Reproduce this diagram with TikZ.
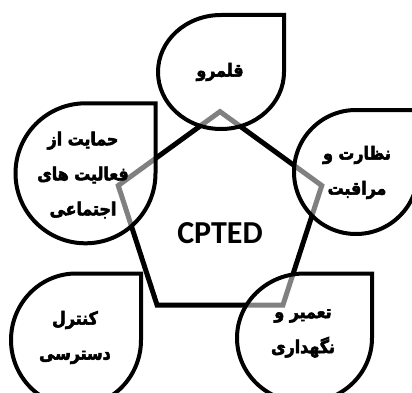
\documentclass[tikz,border=0pt]{standalone}
\usepackage{fontspec}
\setmainfont{Carlito}
\newfontfamily\farsi[Script=Arabic,FakeStretch=0.88,BoldFeatures={FakeBold=3}]{DejaVu Sans}
\TeXXeTstate=1

\begin{document}
\begin{tikzpicture}[x=1pt,y=1pt,
    drop/.style={draw=black,line width=4pt,fill=white,fill opacity=.5},
    pent/.style={line width=5pt,line join=miter},
    lbl/.style={font=\farsi\bfseries\fontsize{18}{35}\selectfont,align=center}]
% \draw [help lines,step=20] (0,0) grid (412,392) ;
\clip (0,0) rectangle (412,392) ;

\begin{scope} [shift={(220,173.4)}]
    \draw[pent] (90:107) -- (162:107) -- (234:107) -- (306:107) -- (18:107) -- cycle ;
\end{scope}

\draw[drop] (221,377) -- (284,377) -- (284,320) arc[start angle=0,end angle=-270,x radius=63pt,y radius=57pt] -- cycle ;
\draw[drop] (85.5,288.7) -- (155.5,288.7) -- (155.5,218.7) arc[start angle=0,end angle=-270,radius=70pt] -- cycle ;
\draw[drop] (356,282) -- (418,282) -- (418,220) arc[start angle=0,end angle=-270,radius=62pt] -- cycle ;
\draw[drop] (304.5,118.5) -- (372,118.5) -- (372,54) arc[start angle=0,end angle=-270,x radius=67.5pt,y radius=64.5pt] -- cycle ;
\draw[drop] (76,118.5) -- (141,118.5) -- (141,52) arc[start angle=0,end angle=-270,x radius=65pt,y radius=66.5pt] -- cycle ;

\node (cpted) at (220,159) {\fontsize{32}{33}\selectfont\bfseries CPTED} ;

\node[lbl] (territory) at (220,320) {\beginR قلمرو\endR} ;
\node[lbl] (support) at (83,217) {\beginR حمایت از\endR\\\beginR فعالیت های\endR\\\beginR اجتماعی\endR} ;
\node[lbl] (surveil) at (357,219.5) {\beginR نظارت و\endR\\\beginR مراقبت\endR} ;
\node[lbl] (maint) at (303,58.5) {\beginR تعمیر و\endR\\\beginR نگهداری\endR} ;
\node[lbl] (access) at (75,54.5) {\beginR کنترل\endR\\\beginR دسترسی\endR} ;
\end{tikzpicture}
\end{document}
